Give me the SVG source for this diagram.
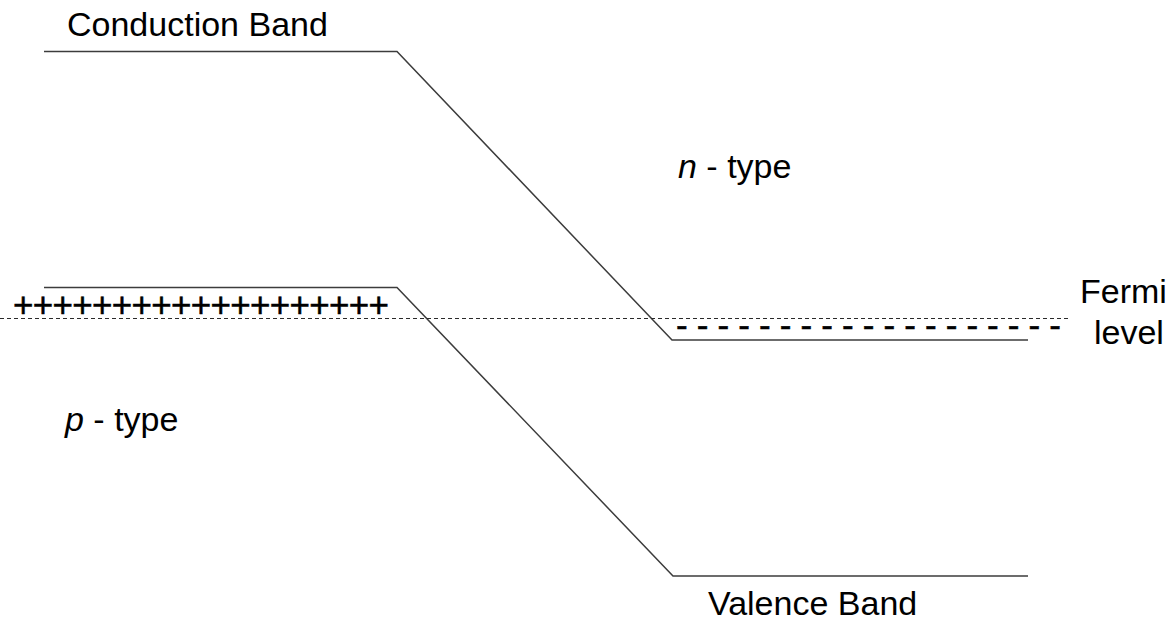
<svg xmlns="http://www.w3.org/2000/svg" width="1176" height="631" viewBox="0 0 1176 631">
  <style>
    .band { fill: none; stroke: #3c3c3c; stroke-width: 1.5; }
    .fermi { fill: none; stroke: #2a2a2a; stroke-width: 1.1; stroke-dasharray: 4 3; }
    .lbl { font-family: "Liberation Sans", Arial, sans-serif; font-size: 34px; fill: #000; }
    .it { font-style: italic; }
    .charge { font-family: "Liberation Sans", Arial, sans-serif; fill: #000; stroke: #000; stroke-width: 0.5; }
  </style>
  <rect width="1176" height="631" fill="#fff"/>

  <!-- band edges across the junction -->
  <g id="connectors">
    <polyline id="conduction-band" class="band" points="44,51.5 397,51.5 672,340 1028,340"/>
    <polyline id="valence-band" class="band" points="44,287.5 397,287.5 673,576 1028,576"/>
    <line id="fermi-level" class="fermi" x1="0" y1="318.5" x2="1068" y2="318.5"/>
  </g>

  <g id="conduction-label">
    <text class="lbl" x="67" y="36">Conduction Band</text>
  </g>
  <g id="valence-label">
    <text class="lbl" x="708" y="615">Valence Band</text>
  </g>
  <g id="n-type">
    <text class="lbl" x="678" y="178"><tspan class="it">n</tspan> - type</text>
  </g>
  <g id="p-type">
    <text class="lbl" x="65" y="431"><tspan class="it">p</tspan> - type</text>
  </g>
  <g id="fermi-label">
    <text class="lbl" x="1080" y="303">Fermi</text>
    <text class="lbl" x="1094" y="344">level</text>
  </g>
  <g id="positive-charges">
    <text class="charge" x="13" y="316.5" font-size="35" textLength="376" lengthAdjust="spacing">+++++++++++++++++++</text>
  </g>
  <g id="negative-charges">
    <text class="charge" x="676" y="337" font-size="35" textLength="385" lengthAdjust="spacing">- - - - - - - - - - - - - - - - - - -</text>
  </g>
</svg>
